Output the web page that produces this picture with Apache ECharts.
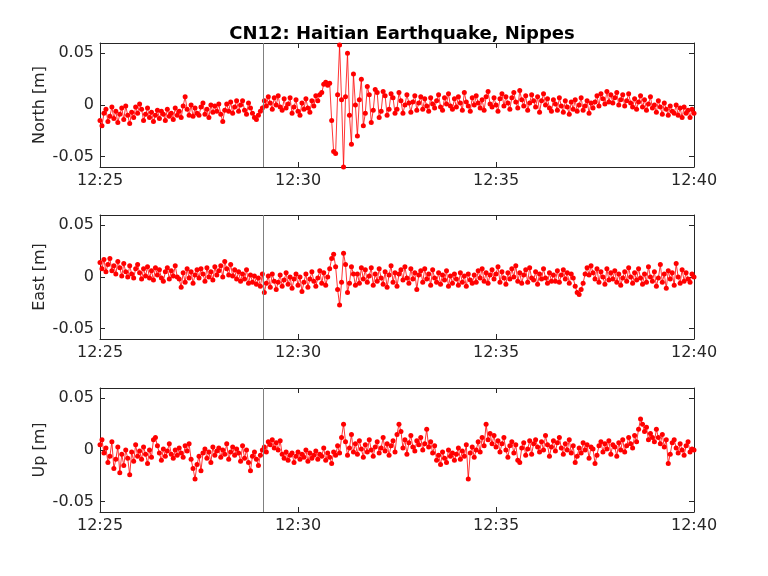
<!DOCTYPE html>
<html>
<head>
<meta charset="utf-8">
<script src="https://cdn.jsdelivr.net/npm/echarts@6/dist/echarts.min.js"></script>
<style>html,body{margin:0;padding:0;background:#fff}#c{width:768px;height:576px}</style>
</head>
<body>
<div id="c"></div>
<script>
// Sample spacing (seconds) starting at 12:25:00; values in millimetres
const sampleStep = 3;
const eventTime = 247; // seconds after 12:25:00
const xTickLabels = ["12:25", "12:30", "12:35", "12:40"];
const yTickValues = [-0.05, 0, 0.05];
const yTickLabels = ["-0.05", "0", "0.05"];
const panelNames = ["North [m]", "East [m]", "Up [m]"];

const north = [
-15,-20,-8,-4,-16,-11,-2,-13,-6,-17,
-9,-3,-14,-1,-10,-18,-7,-12,-2,-8,
1,-4,-15,-9,-3,-12,-7,-16,-10,-5,
-13,-6,-9,-15,-4,-11,-8,-14,-3,-10,
-6,-12,-1,8,-4,-10,0,-11,-3,-8,
-10,-2,2,-9,-4,-12,0,-7,-1,-6,
1,-9,-16,-5,1,-6,3,-8,-2,4,
-6,0,4,-5,-9,2,-3,-8,-12,-14,
-10,-6,-3,4,-1,8,2,-4,7,0,
9,-2,-5,6,-3,1,7,-8,-2,5,
-6,-10,2,-4,6,-3,-7,4,-1,9,
4,10,12,20,22,19,21,-15,-45,-47,
10,58,5,-60,8,50,-10,-38,30,0,
-30,5,25,-20,-8,18,10,-17,-5,15,
12,-12,-6,13,9,-10,-4,11,7,-8,
-4,12,4,-8,0,10,2,-7,3,9,
-5,2,8,-4,6,-1,-6,7,1,-3,
4,10,-2,-5,7,1,11,-1,-4,6,
-2,8,2,-5,12,3,-1,-6,7,0,
9,2,-3,5,-5,8,13,1,-2,7,
0,-6,6,11,-1,8,2,-4,7,12,
3,-3,14,5,-1,9,-5,2,10,4,
-2,8,-7,4,11,0,6,-3,-6,5,
1,-5,7,-1,-7,4,-2,-9,3,-4,
5,-6,0,7,-5,-1,4,-8,2,-3,
3,9,-1,11,6,1,13,3,10,2,
7,12,0,5,10,-1,4,11,2,-2,
6,-4,3,9,-2,5,-5,1,8,-3,
0,-7,4,-2,-9,2,-4,-10,-1,-6,
-8,0,-10,-3,-12,-2,-8,-5,-12,-4,
-8];

const east = [
14,8,17,5,12,18,6,11,3,15,
9,1,13,5,0,11,3,-1,8,12,
4,-2,8,1,10,-1,6,-3,9,2,
7,-1,-4,5,9,-2,6,1,11,0,
-2,-10,4,-5,8,-1,5,-6,2,7,
-1,8,3,-4,9,0,5,-3,10,2,
6,11,0,15,8,2,12,1,7,-2,
5,-4,3,-2,7,-6,2,-5,1,-7,
-1,-9,3,-15,-6,1,-10,3,-4,-12,
-5,2,-9,-3,4,-7,0,-11,-2,3,
-8,0,-14,-5,3,-10,-2,5,-4,-9,
-1,6,-6,4,-8,0,8,18,22,10,
-12,-27,-5,23,12,-15,-6,10,3,-8,
3,-6,9,-2,7,-5,1,9,-8,3,
-4,8,-1,-7,5,-10,2,11,-5,4,
-9,3,7,-3,10,-1,-6,8,-2,4,
-12,2,6,-5,8,-2,3,-8,7,-1,
-5,4,-7,2,-3,6,-9,1,-6,3,
-2,-8,4,-5,1,-9,3,-3,-6,2,
-5,6,-1,8,-4,4,-6,2,7,-2,
3,10,-5,5,-1,-7,4,-2,8,0,
11,-4,4,-6,2,7,-5,9,-1,-3,
5,-7,3,-2,8,-1,-6,4,-4,2,
-4,6,-5,2,7,-2,4,-6,3,-1,
-9,-15,-17,-12,-6,3,9,2,11,4,
-2,8,-5,5,0,-7,8,-3,4,-2,
6,-5,3,-8,-1,5,-4,9,0,-6,
4,-3,8,-1,-7,3,-5,10,0,-4,
5,-9,-1,12,-5,3,-11,6,-2,4,
-8,13,0,-6,7,-4,4,-2,-5,3,
0];

const up = [
5,10,-3,2,-12,-6,8,-18,-9,3,
-22,-4,-15,0,-8,-24,-2,-11,5,-6,
-1,-9,3,-4,-13,0,-7,10,12,4,
-3,-10,1,-6,-1,6,-4,-8,0,-5,
2,-3,-7,4,-1,6,-9,-18,-28,-14,
-6,-20,-3,1,-8,-2,-12,3,-5,-1,
2,-7,0,-4,6,-9,-2,3,-5,1,
-3,-11,4,-8,0,-12,-20,-6,-2,-9,
-15,-5,0,3,-2,8,5,10,2,7,
0,9,-4,-8,-2,-10,-5,-3,-12,-6,
-2,-9,-4,-7,0,-11,-3,-8,-5,-1,
-9,-4,-6,2,-10,-3,-7,-13,-2,-5,
4,-3,12,25,8,-5,2,15,-2,6,
-4,9,1,-7,5,-2,10,0,-6,3,
8,-3,2,12,-1,6,-5,4,9,-2,
15,25,18,2,10,-4,7,14,3,-1,
9,5,12,0,6,20,3,8,-3,4,
-10,-5,-14,-2,-8,-12,0,-6,-3,-10,
-4,2,-9,-1,-6,5,-28,-3,3,-7,
0,8,-2,12,4,25,10,16,6,14,
3,9,-2,6,12,0,-7,4,8,-3,
5,-10,-12,2,7,-5,1,9,-4,6,
10,3,-2,8,0,14,5,-6,3,9,
-1,7,12,2,-4,6,0,10,-3,4,
-12,-6,2,-3,7,0,5,-8,3,1,
-13,-5,4,8,-2,6,1,9,-4,5,
3,-6,7,0,10,-2,4,12,6,2,
14,8,20,30,25,18,22,10,16,12,
8,20,12,6,15,3,10,-13,-4,7,
10,2,-3,6,0,-5,4,8,-2,1,
0];

const panels = [north, east, up];
const gridTops = [43, 215, 388];
const axisColor = '#262626';
const font = 'DejaVu Sans';

const chart = echarts.init(document.getElementById('c'), null, {renderer: 'canvas'});
const grid = [], xAxis = [], yAxis = [], series = [];
panels.forEach((vals, k) => {
  grid.push({left: 100, width: 594, top: gridTops[k], height: 124, show: false});
  const xBase = {
    type: 'value', gridIndex: k, min: 0, max: 900, interval: 300,
    axisLine: {show: true, onZero: false, lineStyle: {color: axisColor, width: 1}},
    axisTick: {show: true, inside: true, length: 5, lineStyle: {color: axisColor}},
    splitLine: {show: false}
  };
  xAxis.push(Object.assign({}, xBase, {
    position: 'bottom',
    axisLabel: {show: true, color: axisColor, fontSize: 16, fontFamily: font, margin: 6,
      formatter: v => xTickLabels[Math.round(v / 300)]}
  }));
  xAxis.push(Object.assign({}, xBase, {position: 'top', axisLabel: {show: false}}));
  const yBase = {
    type: 'value', gridIndex: k, min: -0.06, max: 0.06,
    axisLine: {show: true, onZero: false, lineStyle: {color: axisColor, width: 1}},
    axisTick: {show: true, inside: true, length: 5, customValues: yTickValues, lineStyle: {color: axisColor}},
    splitLine: {show: false}
  };
  yAxis.push(Object.assign({}, yBase, {
    position: 'left',
    name: panelNames[k], nameLocation: 'middle', nameGap: 52, nameRotate: 90,
    nameMoveOverlap: false,
    nameTextStyle: {color: axisColor, fontSize: 16, fontFamily: font},
    axisLabel: {show: true, color: axisColor, fontSize: 16, fontFamily: font, margin: 6,
      customValues: yTickValues,
      formatter: v => yTickLabels[yTickValues.findIndex(t => Math.abs(t - v) < 1e-9)]}
  }));
  yAxis.push(Object.assign({}, yBase, {position: 'right', axisLabel: {show: false}}));
  series.push({
    type: 'line', xAxisIndex: 2 * k, yAxisIndex: 2 * k,
    data: vals.map((v, i) => [i * sampleStep, v / 1000]),
    symbol: 'circle', symbolSize: 5, showSymbol: true,
    lineStyle: {color: '#ff0000', width: 0.8},
    itemStyle: {color: '#ff0000'},
    animation: false, silent: true,
    markLine: {
      silent: true, symbol: 'none', animation: false,
      label: {show: false},
      lineStyle: {color: '#808080', width: 1, type: 'solid'},
      data: [{xAxis: eventTime}]
    }
  });
});

chart.setOption({
  backgroundColor: '#ffffff',
  animation: false,
  title: {
    text: 'CN12: Haitian Earthquake, Nippes',
    left: 397, top: 20, textAlign: 'center',
    textStyle: {fontFamily: font, fontSize: 18, fontWeight: 'bold', color: '#000'}
  },
  grid, xAxis, yAxis, series
});
</script>
</body>
</html>
